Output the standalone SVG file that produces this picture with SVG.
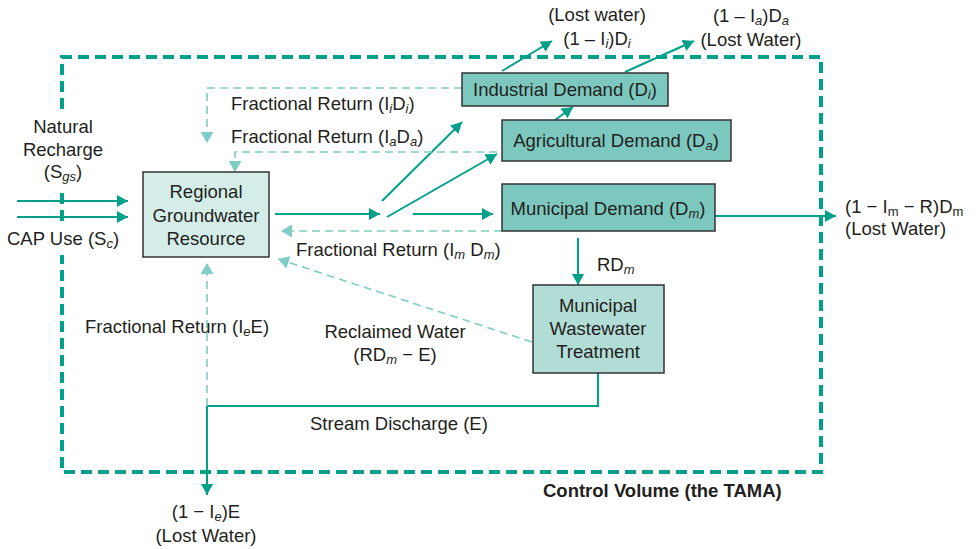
<svg xmlns="http://www.w3.org/2000/svg" width="978" height="549" viewBox="0 0 978 549">
<style>
text{font-family:"Liberation Sans",Arial,Helvetica,sans-serif;font-size:18.5px;fill:#231f20}
.s{font-size:13px;font-style:italic}
.su{font-size:13px}
.b{font-weight:bold}
.m{text-anchor:middle}
.box{stroke:#333;stroke-width:1.5}
.sol{stroke:#00a08a;stroke-width:2;fill:none}
.dsh{stroke:#7fcdc3;stroke-width:1.6;fill:none;stroke-dasharray:8 5}
.cv{stroke:#00a08a;stroke-width:4;fill:none;stroke-dasharray:11 6}
</style>
<defs>
<marker id="a" markerUnits="userSpaceOnUse" markerWidth="12" markerHeight="12" refX="11" refY="6" orient="auto" viewBox="0 0 12 12"><path d="M0,0 L11,6 L0,12 z" fill="#00a08a"/></marker>
<marker id="b" markerUnits="userSpaceOnUse" markerWidth="12" markerHeight="13" refX="11" refY="6.5" orient="auto" viewBox="0 0 12 13"><path d="M0,0 L11,6.5 L0,13 z" fill="#7fcdc3"/></marker>
</defs>
<rect width="978" height="549" fill="#fff"/>
<g id="control-volume">
<path class="cv" d="M62,109 V57 H821 V472 H62 V255"/>
<path class="cv" d="M62,193 V226"/>
<text class="b" x="543" y="497">Control Volume (the TAMA)</text>
</g>
<g id="connectors">
<path class="sol" d="M17,201 H128" marker-end="url(#a)"/>
<path class="sol" d="M17,217 H128" marker-end="url(#a)"/>
<path class="sol" d="M275,214 H380" marker-end="url(#a)"/>
<path class="sol" d="M382,201 L462,122" marker-end="url(#a)"/>
<path class="sol" d="M387,217 L497,154" marker-end="url(#a)"/>
<path class="sol" d="M413,214 H493" marker-end="url(#a)"/>
<path class="sol" d="M555,120 L573,107" marker-end="url(#a)"/>
<path class="sol" d="M502,71 L552,41" marker-end="url(#a)"/>
<path class="sol" d="M625,72 L694,41" marker-end="url(#a)"/>
<path class="sol" d="M715,216 H836" marker-end="url(#a)"/>
<path class="sol" d="M578,238 V285" marker-end="url(#a)"/>
<path class="sol" d="M598,373 V406 H207 V495" marker-end="url(#a)"/>
<path class="dsh" d="M462,88 H207 V143" marker-end="url(#b)"/>
<path class="dsh" d="M497,152 H235 V172" marker-end="url(#b)"/>
<path class="dsh" d="M502,231 H281" marker-end="url(#b)"/>
<path class="dsh" d="M532,342 L278,259" marker-end="url(#b)"/>
<path class="dsh" d="M207,406 V263" marker-end="url(#b)"/>
</g>
<g id="regional">
<rect class="box" x="143" y="172" width="126" height="85" fill="#d5ede8"/>
<text class="m" x="206" y="198">Regional</text>
<text class="m" x="206" y="222">Groundwater</text>
<text class="m" x="206" y="245">Resource</text>
</g>
<g id="industrial">
<rect class="box" x="462" y="73" width="206" height="33" fill="#7cc8bf"/>
<text class="m" x="565" y="96">Industrial Demand (D<tspan class="s" dy="3">i</tspan><tspan dy="-3">)</tspan></text>
</g>
<g id="agricultural">
<rect class="box" x="502" y="120" width="229" height="41" fill="#7cc8bf"/>
<text class="m" x="616" y="147">Agricultural Demand (D<tspan class="s" dy="3">a</tspan><tspan dy="-3">)</tspan></text>
</g>
<g id="municipal">
<rect class="box" x="502" y="184" width="213" height="47" fill="#7cc8bf"/>
<text class="m" x="608" y="215">Municipal Demand (D<tspan class="s" dy="3">m</tspan><tspan dy="-3">)</tspan></text>
</g>
<g id="wastewater">
<rect class="box" x="533" y="285" width="131" height="88" fill="#b2ddd7"/>
<text class="m" x="598" y="312">Municipal</text>
<text class="m" x="598" y="335">Wastewater</text>
<text class="m" x="598" y="358">Treatment</text>
</g>
<g id="labels">
<text class="m" x="63" y="133">Natural</text>
<text class="m" x="63" y="156">Recharge</text>
<text class="m" x="63" y="178">(S<tspan class="s" dy="3">gs</tspan><tspan dy="-3">)</tspan></text>
<text x="7" y="245">CAP Use (S<tspan class="s" dy="3">c</tspan><tspan dy="-3">)</tspan></text>
<text class="m" x="597" y="21">(Lost water)</text>
<text class="m" x="597" y="45">(1 – I<tspan class="s" dy="3">i</tspan><tspan dy="-3">)D</tspan><tspan class="s" dy="3">i</tspan></text>
<text class="m" x="751" y="22">(1 – I<tspan class="s" dy="3">a</tspan><tspan dy="-3">)D</tspan><tspan class="s" dy="3">a</tspan></text>
<text class="m" x="751" y="46">(Lost Water)</text>
<text x="231" y="110">Fractional Return (I<tspan class="s" dy="3">i</tspan><tspan dy="-3">D</tspan><tspan class="s" dy="3">i</tspan><tspan dy="-3">)</tspan></text>
<text x="231" y="143">Fractional Return (I<tspan class="s" dy="3">a</tspan><tspan dy="-3">D</tspan><tspan class="s" dy="3">a</tspan><tspan dy="-3">)</tspan></text>
<text x="296" y="256">Fractional Return (I<tspan class="s" dy="3">m</tspan><tspan dy="-3"> D</tspan><tspan class="s" dy="3">m</tspan><tspan dy="-3">)</tspan></text>
<text class="m" x="395" y="338">Reclaimed Water</text>
<text class="m" x="395" y="361">(RD<tspan class="s" dy="3">m</tspan><tspan dy="-3"> − E)</tspan></text>
<text x="85" y="333">Fractional Return (I<tspan class="s" dy="3">e</tspan><tspan dy="-3">E)</tspan></text>
<text x="597" y="271">RD<tspan class="s" dy="3">m</tspan></text>
<text x="845" y="213">(1 − I<tspan class="su" dy="3">m</tspan><tspan dy="-3"> − R)D</tspan><tspan class="su" dy="3">m</tspan></text>
<text x="845" y="235">(Lost Water)</text>
<text x="310" y="430">Stream Discharge (E)</text>
<text class="m" x="206" y="518">(1 − I<tspan class="s" dy="3">e</tspan><tspan dy="-3">)E</tspan></text>
<text class="m" x="206" y="542">(Lost Water)</text>
</g>
</svg>
